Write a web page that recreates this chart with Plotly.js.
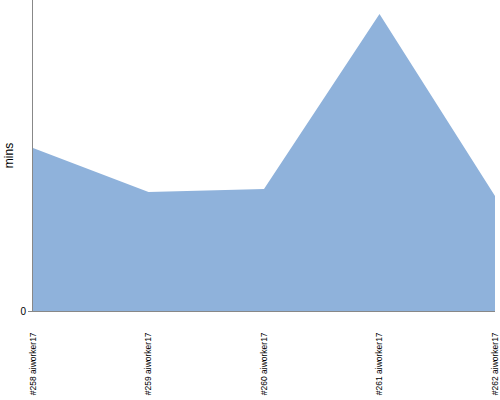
<!DOCTYPE html>
<html><head><meta charset="utf-8">
<script src="https://cdn.plot.ly/plotly-3.0.1.min.js"></script>
<style>html,body{margin:0;padding:0;background:#fff}#chart{width:500px;height:400px}</style>
</head><body><div id="chart"></div>
<script>
const categories = ["#258 aiworker17", "#259 aiworker17", "#260 aiworker17", "#261 aiworker17", "#262 aiworker17"];
const minutes = [16.3, 11.9, 12.2, 29.7, 11.5];
const yTickVals = [0];
const yTickText = ["0"];

Plotly.newPlot("chart", [{
  x: categories,
  y: minutes,
  type: "scatter",
  mode: "lines",
  fill: "tozeroy",
  fillcolor: "rgb(143,178,219)",
  line: {color: "rgb(143,178,219)", width: 0}
}], {
  width: 500, height: 400,
  margin: {l: 33, r: 5, t: 0, b: 89, pad: 0},
  paper_bgcolor: "#fff", plot_bgcolor: "#fff",
  showlegend: false,
  font: {family: "Liberation Sans, Arial, sans-serif", color: "#000"},
  xaxis: {
    type: "category", range: [0, 4],
    showgrid: false, zeroline: false,
    showline: true, linecolor: "#888", linewidth: 1,
    ticks: "", tickangle: -90,
    ticklabelstandoff: 17,
    tickfont: {size: 8.5, family: "Liberation Sans, sans-serif"}
  },
  yaxis: {
    range: [0, 31.1],
    showgrid: false, zeroline: false,
    showline: true, linecolor: "#888", linewidth: 1,
    ticks: "outside", ticklen: 4, tickcolor: "#888",
    tickvals: yTickVals, ticktext: yTickText,
    tickfont: {size: 10},
    title: {text: "mins", font: {size: 12}, standoff: 4}
  }
}, {displayModeBar: false, staticPlot: true});
</script></body></html>
